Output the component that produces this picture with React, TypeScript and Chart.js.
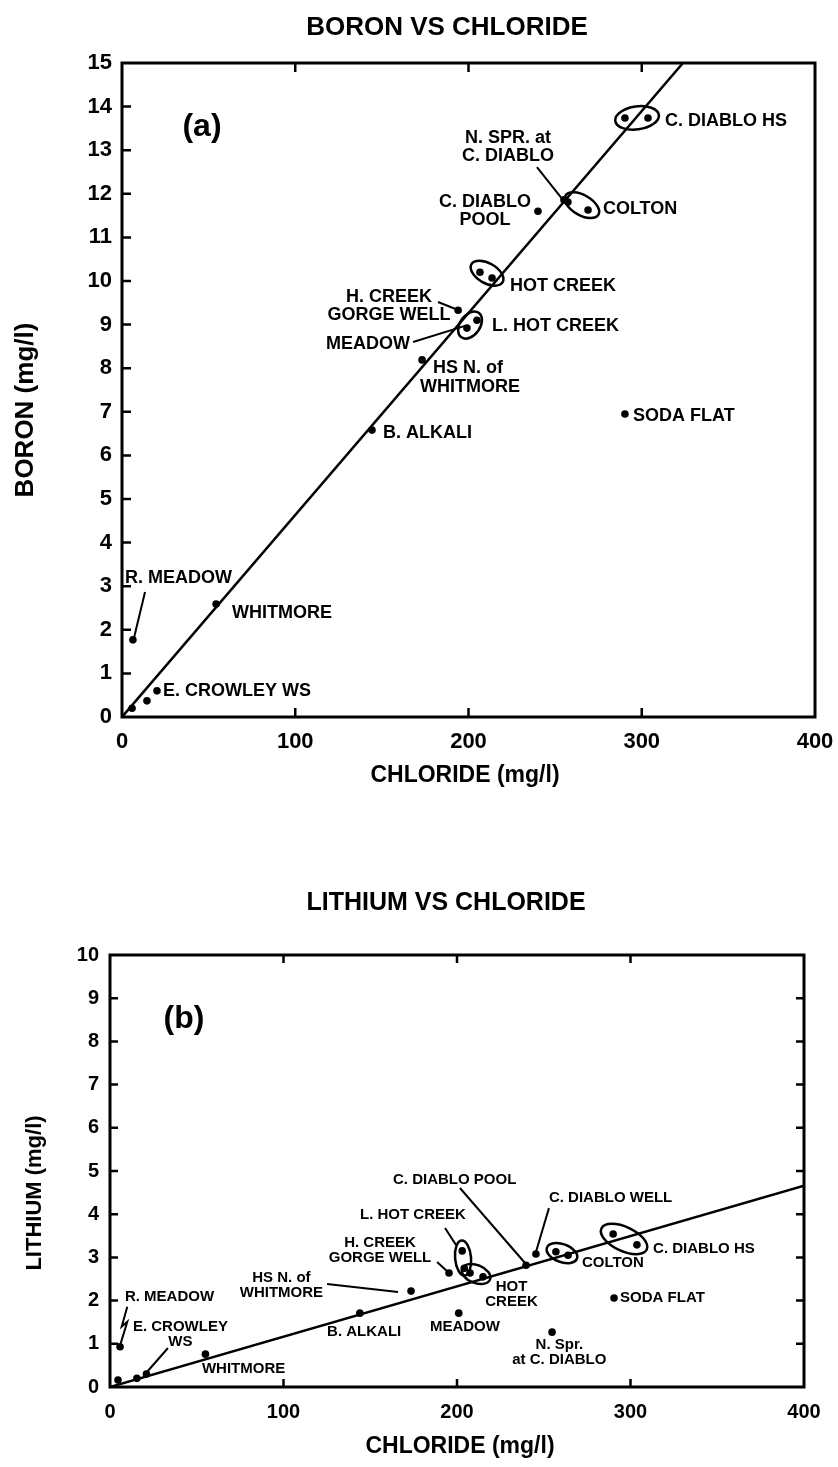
import { useEffect, useRef } from 'react';
import { Chart, registerables } from 'chart.js';
Chart.register(...registerables);

const FONT = '"Liberation Sans", Arial, Helvetica, sans-serif';

// ---------- (a) BORON VS CHLORIDE ----------
const boronChloride = [5.8, 14.4, 20.2, 6.3, 54.3, 144.3, 173.2, 290.3, 194, 199.1, 204.9, 206.6, 213.6, 240.1, 255.1, 257.4, 269, 290.3, 303.6];
const boronValues = [0.2, 0.37, 0.6, 1.77, 2.59, 6.58, 8.19, 6.95, 9.33, 8.92, 9.1, 10.2, 10.07, 11.6, 11.86, 11.81, 11.63, 13.74, 13.74];
const boronFitChloride = [0, 323.8];
const boronFitValues = [0, 15];
const boronXTicks = [0, 100, 200, 300, 400];
const boronYTicks = [0, 15];

// ---------- (b) LITHIUM VS CHLORIDE ----------
const lithiumChloride = [4.6, 15.5, 21, 5.8, 55, 144, 173.5, 195.4, 201, 203, 204.2, 207.5, 215, 239.8, 245.5, 257, 264, 290, 303.7, 290.5, 254.8];
const lithiumValues = [0.16, 0.2, 0.3, 0.93, 0.76, 1.71, 2.22, 2.64, 1.71, 3.15, 2.75, 2.64, 2.55, 2.82, 3.08, 3.13, 3.05, 3.54, 3.29, 2.06, 1.27];
const lithiumFitChloride = [0, 400];
const lithiumFitValues = [0, 4.66];
const lithiumXTicks = [0, 400];
const lithiumYTicks = [0, 10];

type Label = { lines: string[]; x: number; y: number; align: CanvasTextAlign };
type Leader = [number, number][];
type Ell = { x: number; y: number; rx: number; ry: number; rot: number };
type Text = { text: string; x: number; y: number; size: number; rot?: number };

const boronLabels: Label[] = [
  { lines: ['C. DIABLO HS'], x: 313.4, y: 13.67, align: 'left' },
  { lines: ['N. SPR. at', 'C. DIABLO'], x: 222.8, y: 13.28, align: 'center' },
  { lines: ['C. DIABLO', 'POOL'], x: 209.5, y: 11.81, align: 'center' },
  { lines: ['COLTON'], x: 277.6, y: 11.65, align: 'left' },
  { lines: ['HOT CREEK'], x: 224, y: 9.885, align: 'left' },
  { lines: ['H. CREEK', 'GORGE WELL'], x: 154.1, y: 9.633, align: 'center' },
  { lines: ['L. HOT CREEK'], x: 213.6, y: 8.968, align: 'left' },
  { lines: ['MEADOW'], x: 166.2, y: 8.555, align: 'right' },
  { lines: ['HS N. of'], x: 179.5, y: 8.0, align: 'left' },
  { lines: ['WHITMORE'], x: 172, y: 7.57, align: 'left' },
  { lines: ['B. ALKALI'], x: 150.6, y: 6.514, align: 'left' },
  { lines: ['SODA FLAT'], x: 295, y: 6.904, align: 'left' },
  { lines: ['R. MEADOW'], x: 1.7, y: 3.19, align: 'left' },
  { lines: ['WHITMORE'], x: 63.5, y: 2.385, align: 'left' },
  { lines: ['E. CROWLEY WS'], x: 23.7, y: 0.596, align: 'left' },
];
const boronLeaders: Leader[] = [
  [[13.3, 2.867], [6.9, 1.81]],
  [[182.4, 9.518], [194, 9.335]],
  [[168, 8.6], [198, 8.97]],
  [[239.5, 12.61], [254.5, 11.86]],
];
const boronEllipses: Ell[] = [
  { x: 297.3, y: 13.74, rx: 22, ry: 11.5, rot: -8 },
  { x: 265.5, y: 11.74, rx: 19, ry: 10, rot: 30 },
  { x: 210.7, y: 10.18, rx: 18, ry: 10, rot: 30 },
  { x: 200.9, y: 8.99, rx: 15, ry: 10, rot: -55 },
];
const boronTexts: Text[] = [
  { text: 'BORON VS CHLORIDE', x: 447, y: 28, size: 26 },
  { text: 'CHLORIDE (mg/l)', x: 465, y: 776, size: 23 },
  { text: 'BORON (mg/l)', x: 26, y: 410, size: 26, rot: -90 },
  { text: '(a)', x: 202, y: 127, size: 32 },
];

const lithiumLabels: Label[] = [
  { lines: ['C. DIABLO POOL'], x: 163.1, y: 4.79, align: 'left' },
  { lines: ['C. DIABLO WELL'], x: 253, y: 4.375, align: 'left' },
  { lines: ['L. HOT CREEK'], x: 144.1, y: 3.98, align: 'left' },
  { lines: ['H. CREEK', 'GORGE WELL'], x: 155.6, y: 3.333, align: 'center' },
  { lines: ['HS N. of', 'WHITMORE'], x: 98.8, y: 2.523, align: 'center' },
  { lines: ['R. MEADOW'], x: 8.6, y: 2.083, align: 'left' },
  { lines: ['E. CROWLEY', 'WS'], x: 40.6, y: 1.389, align: 'center' },
  { lines: ['WHITMORE'], x: 53, y: 0.417, align: 'left' },
  { lines: ['B. ALKALI'], x: 125.1, y: 1.273, align: 'left' },
  { lines: ['MEADOW'], x: 184.4, y: 1.389, align: 'left' },
  { lines: ['HOT', 'CREEK'], x: 231.4, y: 2.315, align: 'center' },
  { lines: ['COLTON'], x: 272, y: 2.87, align: 'left' },
  { lines: ['C. DIABLO HS'], x: 313, y: 3.194, align: 'left' },
  { lines: ['SODA FLAT'], x: 294, y: 2.06, align: 'left' },
  { lines: ['N. Spr.', 'at C. DIABLO'], x: 259, y: 0.972, align: 'center' },
];
const lithiumLeaders: Leader[] = [
  [[201.7, 4.606], [239.2, 2.87]],
  [[253, 4.14], [245.5, 3.125]],
  [[193.1, 3.68], [199.4, 3.29]],
  [[188.5, 2.894], [194.8, 2.66]],
  [[125.1, 2.384], [166, 2.2]],
  [[9.97, 1.86], [6.74, 1.4], [9.97, 1.51], [6.16, 1.01]],
  [[33.4, 0.903], [21.3, 0.347]],
];
const lithiumEllipses: Ell[] = [
  { x: 203.5, y: 2.986, rx: 8, ry: 17.5, rot: -5 },
  { x: 211, y: 2.616, rx: 15, ry: 9, rot: 22 },
  { x: 260.5, y: 3.1, rx: 16, ry: 9, rot: 20 },
  { x: 296.3, y: 3.426, rx: 25, ry: 12, rot: 25 },
];
const lithiumTexts: Text[] = [
  { text: 'LITHIUM VS CHLORIDE', x: 446, y: 83, size: 25 },
  { text: 'CHLORIDE (mg/l)', x: 460, y: 627, size: 23 },
  { text: 'LITHIUM (mg/l)', x: 35, y: 373, size: 22, rot: -90 },
  { text: '(b)', x: 184, y: 199, size: 32 },
];

type Cfg = {
  key: string;
  width: number;
  height: number;
  padTop: number;
  padRight: number;
  yWidth: number;
  xHeight: number;
  xs: number[];
  ys: number[];
  fitX: number[];
  fitY: number[];
  xRange: number[];
  yRange: number[];
  xStep: number;
  yStep: number;
  tickFont: number;
  xPad: number;
  yPad: number;
  labelFont: number;
  lineGap: number;
  labels: Label[];
  leaders: Leader[];
  ellipses: Ell[];
  texts: Text[];
  rightTicks: boolean;
  tickLen: number;
};

function decor(cfg: Cfg) {
  return {
    id: 'decor' + cfg.key,
    afterDatasetsDraw(chart: any) {
      const { ctx, chartArea: a, scales } = chart;
      const x = scales.x;
      const y = scales.y;
      const X = (v: number) => x.getPixelForValue(v);
      const Y = (v: number) => y.getPixelForValue(v);
      ctx.save();
      ctx.strokeStyle = '#000';
      ctx.fillStyle = '#000';
      // frame
      ctx.lineWidth = 3;
      ctx.strokeRect(a.left, a.top, a.right - a.left, a.bottom - a.top);
      // inward tick marks
      ctx.lineWidth = 2.5;
      const L = cfg.tickLen;
      ctx.beginPath();
      x.ticks.forEach((t: any) => {
        if (t.value <= x.min || t.value >= x.max) return;
        const px = X(t.value);
        ctx.moveTo(px, a.bottom);
        ctx.lineTo(px, a.bottom - L);
        ctx.moveTo(px, a.top);
        ctx.lineTo(px, a.top + L);
      });
      y.ticks.forEach((t: any) => {
        if (t.value <= y.min || t.value >= y.max) return;
        const py = Y(t.value);
        ctx.moveTo(a.left, py);
        ctx.lineTo(a.left + L, py);
        if (cfg.rightTicks) {
          ctx.moveTo(a.right, py);
          ctx.lineTo(a.right - L, py);
        }
      });
      ctx.stroke();
      // leader lines
      ctx.lineWidth = 2;
      cfg.leaders.forEach((ld) => {
        ctx.beginPath();
        ld.forEach(([vx, vy], i) => {
          if (i === 0) ctx.moveTo(X(vx), Y(vy));
          else ctx.lineTo(X(vx), Y(vy));
        });
        ctx.stroke();
      });
      // ellipses
      ctx.lineWidth = 2.5;
      cfg.ellipses.forEach((e) => {
        ctx.beginPath();
        ctx.ellipse(X(e.x), Y(e.y), e.rx, e.ry, (e.rot * Math.PI) / 180, 0, Math.PI * 2);
        ctx.stroke();
      });
      // point labels
      ctx.font = `bold ${cfg.labelFont}px ${FONT}`;
      ctx.textBaseline = 'middle';
      cfg.labels.forEach((lb) => {
        ctx.textAlign = lb.align;
        lb.lines.forEach((s, i) => {
          ctx.fillText(s, X(lb.x), Y(lb.y) + i * cfg.lineGap);
        });
      });
      // titles
      cfg.texts.forEach((t) => {
        ctx.save();
        ctx.font = `bold ${t.size}px ${FONT}`;
        ctx.textAlign = 'center';
        ctx.textBaseline = 'middle';
        ctx.translate(t.x, t.y);
        if (t.rot) ctx.rotate((t.rot * Math.PI) / 180);
        ctx.fillText(t.text, 0, 0);
        ctx.restore();
      });
      ctx.restore();
    },
  };
}

function ScatterPanel({ cfg }: { cfg: Cfg }) {
  const ref = useRef<HTMLCanvasElement>(null);
  useEffect(() => {
    if (!ref.current) return;
    const tickFont = { family: FONT, size: cfg.tickFont, weight: 'bold' as const };
    const chart = new Chart(ref.current, {
      type: 'scatter',
      data: {
        datasets: [
          {
            type: 'line',
            data: cfg.fitX.map((v, i) => ({ x: v, y: cfg.fitY[i] })),
            borderColor: '#000',
            borderWidth: 2.5,
            pointRadius: 0,
            fill: false,
            tension: 0,
          } as any,
          {
            type: 'scatter',
            data: cfg.xs.map((v, i) => ({ x: v, y: cfg.ys[i] })),
            backgroundColor: '#000',
            borderColor: '#000',
            borderWidth: 0,
            pointRadius: 3.8,
          },
        ],
      },
      options: {
        responsive: false,
        animation: false,
        events: [],
        layout: { padding: { top: cfg.padTop, right: cfg.padRight, left: 0, bottom: 0 } },
        plugins: { legend: { display: false }, tooltip: { enabled: false }, title: { display: false } },
        scales: {
          x: {
            type: 'linear',
            min: cfg.xRange[0],
            max: cfg.xRange[1],
            ticks: { stepSize: cfg.xStep, color: '#000', font: tickFont, padding: cfg.xPad, maxRotation: 0, autoSkip: false },
            grid: { display: false, drawTicks: false },
            border: { display: false },
            afterFit: (s: any) => {
              s.height = cfg.xHeight;
              s.paddingLeft = 0;
              s.paddingRight = 0;
            },
          },
          y: {
            type: 'linear',
            min: cfg.yRange[0],
            max: cfg.yRange[1],
            ticks: { stepSize: cfg.yStep, color: '#000', font: tickFont, padding: cfg.yPad, autoSkip: false },
            grid: { display: false, drawTicks: false },
            border: { display: false },
            afterFit: (s: any) => {
              s.width = cfg.yWidth;
              s.paddingTop = 0;
              s.paddingBottom = 0;
            },
          },
        },
      },
      plugins: [decor(cfg)],
    });
    return () => chart.destroy();
  }, [cfg]);
  return <canvas ref={ref} width={cfg.width} height={cfg.height} style={{ display: 'block' }} />;
}

const cfgA: Cfg = {
  key: 'a',
  width: 838,
  height: 800,
  padTop: 63,
  padRight: 23,
  yWidth: 122,
  xHeight: 83,
  xs: boronChloride,
  ys: boronValues,
  fitX: boronFitChloride,
  fitY: boronFitValues,
  xRange: [boronXTicks[0], boronXTicks[boronXTicks.length - 1]],
  yRange: boronYTicks,
  xStep: 100,
  yStep: 1,
  tickFont: 22,
  xPad: 12,
  yPad: 10,
  labelFont: 18,
  lineGap: 18,
  labels: boronLabels,
  leaders: boronLeaders,
  ellipses: boronEllipses,
  texts: boronTexts,
  rightTicks: false,
  tickLen: 9,
};

const cfgB: Cfg = {
  key: 'b',
  width: 838,
  height: 647,
  padTop: 135,
  padRight: 34,
  yWidth: 110,
  xHeight: 80,
  xs: lithiumChloride,
  ys: lithiumValues,
  fitX: lithiumFitChloride,
  fitY: lithiumFitValues,
  xRange: lithiumXTicks,
  yRange: lithiumYTicks,
  xStep: 100,
  yStep: 1,
  tickFont: 20,
  xPad: 13,
  yPad: 11,
  labelFont: 15,
  lineGap: 14.5,
  labels: lithiumLabels,
  leaders: lithiumLeaders,
  ellipses: lithiumEllipses,
  texts: lithiumTexts,
  rightTicks: true,
  tickLen: 8,
};

export default function App() {
  return (
    <div style={{ position: 'absolute', left: 0, top: 0, width: 838, height: 1467, background: '#fff' }}>
      <div style={{ position: 'absolute', left: 0, top: 0 }}>
        <ScatterPanel cfg={cfgA} />
      </div>
      <div style={{ position: 'absolute', left: 0, top: 820 }}>
        <ScatterPanel cfg={cfgB} />
      </div>
    </div>
  );
}
